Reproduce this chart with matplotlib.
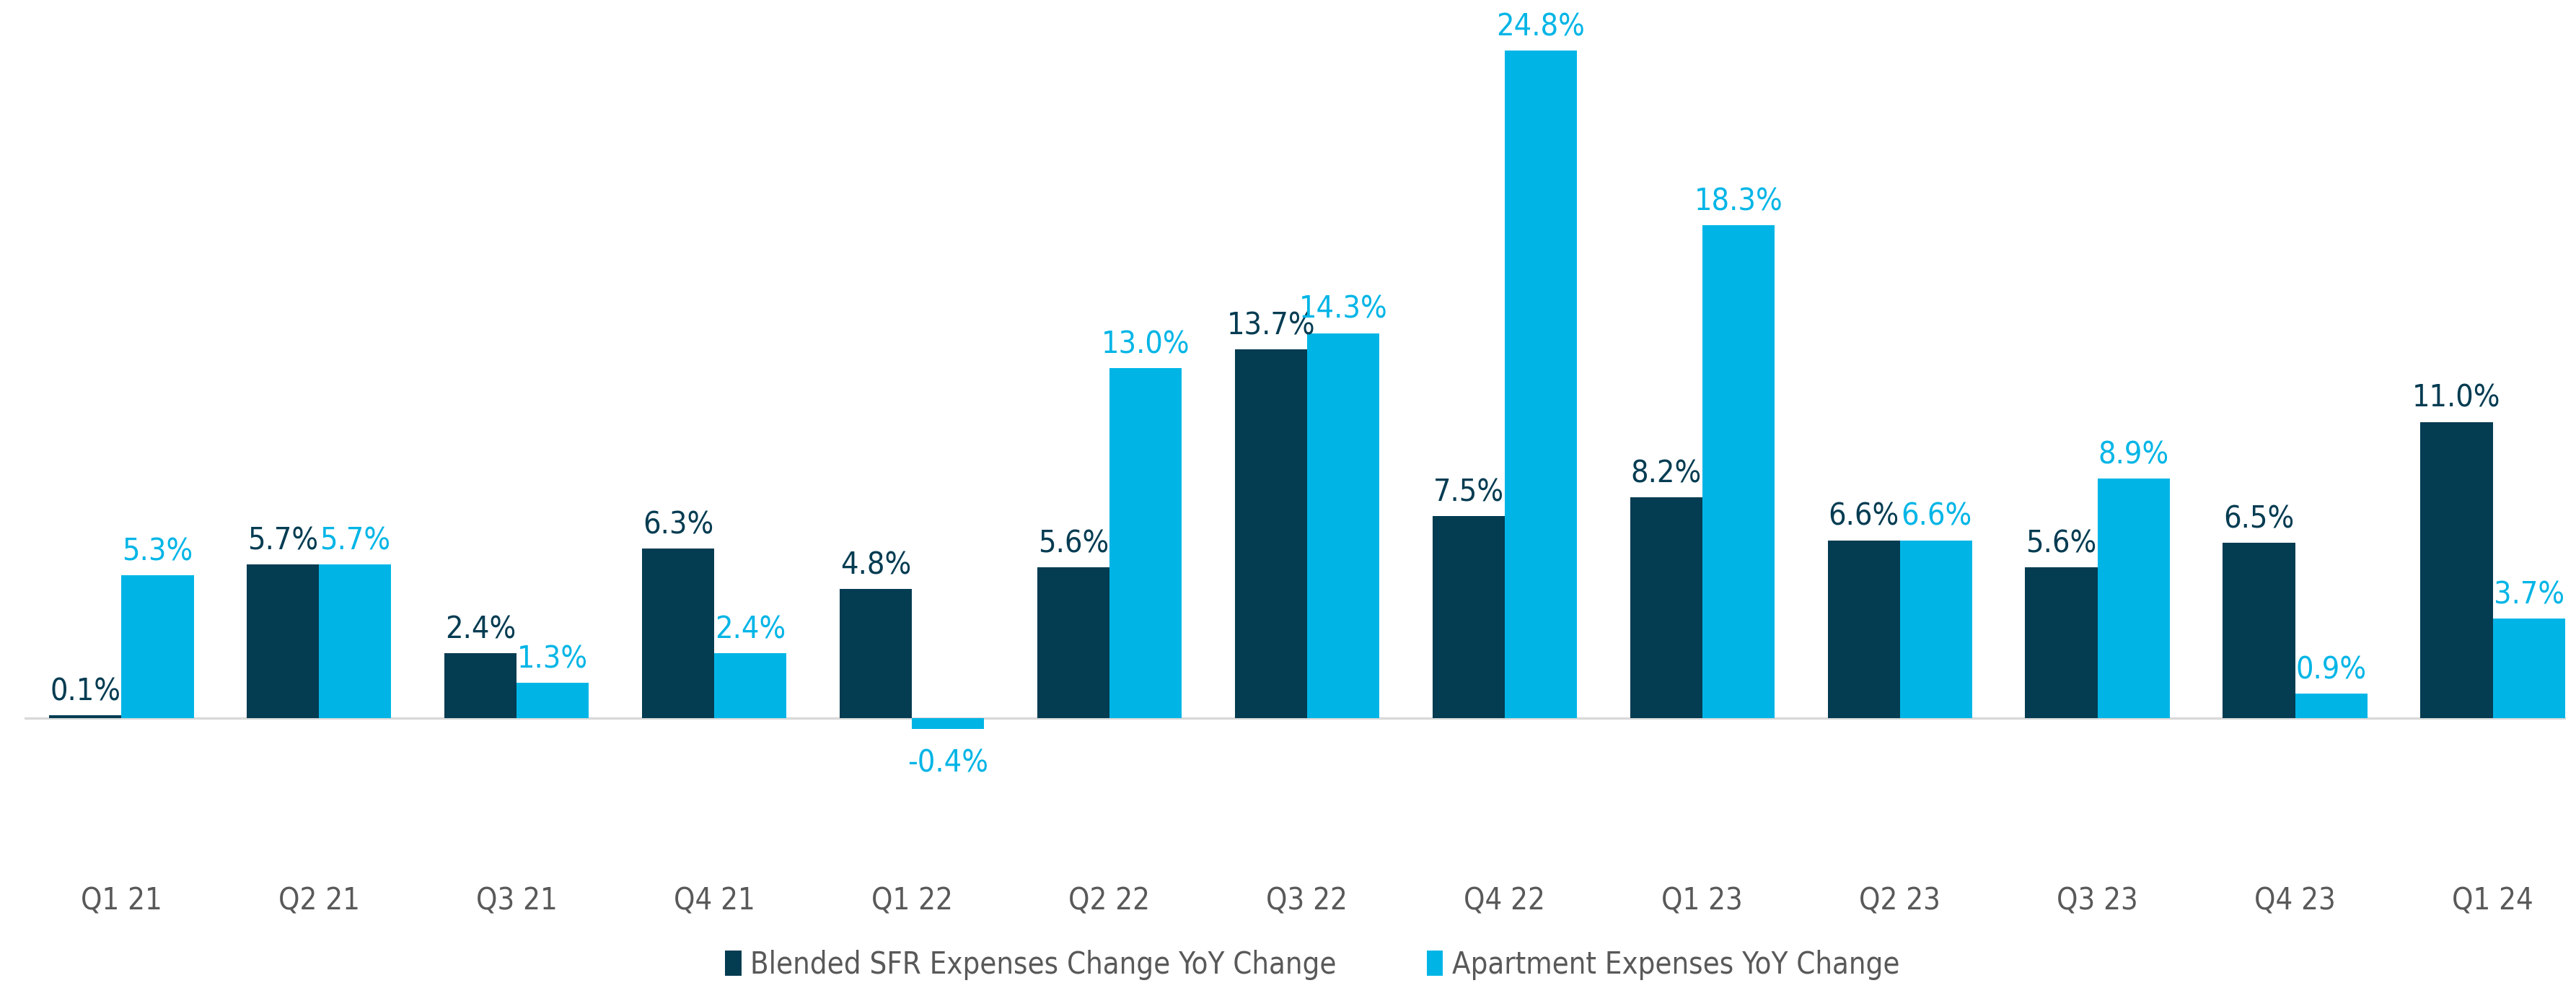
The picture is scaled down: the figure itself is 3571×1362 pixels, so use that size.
import numpy as np
import matplotlib
matplotlib.use("Agg")
import matplotlib.pyplot as plt

quarters = ["Q1 21", "Q2 21", "Q3 21", "Q4 21", "Q1 22", "Q2 22", "Q3 22",
            "Q4 22", "Q1 23", "Q2 23", "Q3 23", "Q4 23", "Q1 24"]
sfr_change = [0.1, 5.7, 2.4, 6.3, 4.8, 5.6, 13.7, 7.5, 8.2, 6.6, 5.6, 6.5, 11.0]
apt_change = [5.3, 5.7, 1.3, 2.4, -0.4, 13.0, 14.3, 24.8, 18.3, 6.6, 8.9, 0.9, 3.7]

dark = "#043c52"
light = "#00b5e6"
grey = "#595959"

plt.rcParams["font.family"] = ["DejaVu Sans"]
plt.rcParams["font.stretch"] = "condensed"

W, H, dpi = 3571, 1362, 200
fig = plt.figure(figsize=(W / dpi, H / dpi), dpi=dpi)
# axes box in pixel terms: left 34, right 3557, top 0, bottom 1150
ax = fig.add_axes([34 / W, 1 - 1150 / H, (3557 - 34) / W, 1150 / H])

x = np.arange(len(quarters))
w = 0.366
b1 = ax.bar(x - w / 2, sfr_change, w, color=dark,
            label="Blended SFR Expenses Change YoY Change")
b2 = ax.bar(x + w / 2, apt_change, w, color=light,
            label="Apartment Expenses YoY Change")

ax.axhline(0, color="#d9d9d9", linewidth=1.2, zorder=0)

ax.set_xlim(-0.49, 12.37)
ax.set_ylim(-4.16, 26.68)

# value labels: above positive bars, below negative ones
for bars, vals, col in [(b1, sfr_change, dark), (b2, apt_change, light)]:
    for rect, v in zip(bars, vals):
        cx = rect.get_x() + rect.get_width() / 2
        if v >= 0:
            ax.annotate(f"{v:.1f}%", (cx, v), xytext=(0, 7.5),
                        textcoords="offset points", ha="center", va="baseline",
                        color=col, fontsize=15.5)
        else:
            ax.annotate(f"{v:.1f}%", (cx, v), xytext=(0, -9.5),
                        textcoords="offset points", ha="center", va="top",
                        color=col, fontsize=15.5)

ax.set_xticks(x)
ax.set_xticklabels(quarters, color=grey, fontsize=15)
ax.tick_params(axis="x", length=0, pad=28)
ax.set_yticks([])
for s in ax.spines.values():
    s.set_visible(False)

fig.legend(handles=[b1, b2], loc="center", bbox_to_anchor=(1819 / W, 1 - 1337 / H),
           ncol=2, frameon=False, fontsize=15, labelcolor=grey,
           handlelength=0.55, handleheight=0.9, handletextpad=0.3,
           columnspacing=3.0)

fig.savefig("out.png", dpi=dpi)
